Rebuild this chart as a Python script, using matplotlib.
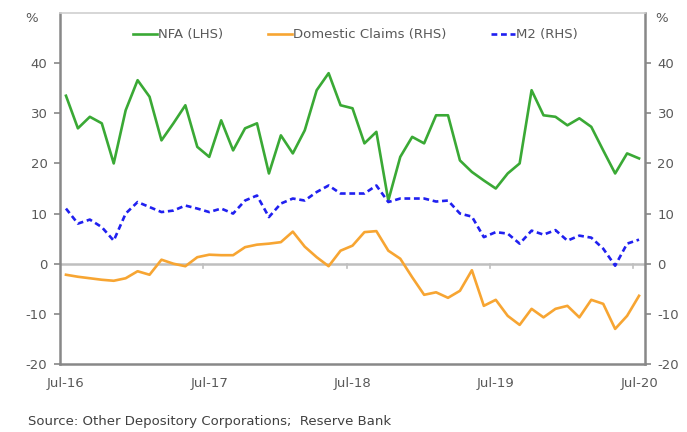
import matplotlib.pyplot as plt
import numpy as np

# monthly data Jul-16 .. Jul-20
nfa = [33.5, 27, 29.3, 28, 20, 30.6, 36.6, 33.3, 24.6, 28, 31.6, 23.3,
       21.3, 28.6, 22.6, 27, 28, 18, 25.6, 22, 26.6, 34.6, 38, 31.6,
       31, 24, 26.3, 12.6, 21.3, 25.3, 24, 29.6, 29.6, 20.6, 18.3, 16.6,
       15, 18, 20, 34.6, 29.6, 29.3, 27.6, 29, 27.3, 22.6, 18, 22, 21]
claims = [-2.2, -2.6, -2.9, -3.2, -3.4, -2.9, -1.5, -2.2, 0.8, 0, -0.5, 1.3,
          1.8, 1.7, 1.7, 3.3, 3.8, 4, 4.3, 6.4, 3.4, 1.3, -0.5, 2.6,
          3.6, 6.3, 6.5, 2.6, 1, -2.7, -6.2, -5.7, -6.8, -5.4, -1.3, -8.4,
          -7.2, -10.4, -12.2, -9, -10.7, -9, -8.4, -10.7, -7.2, -8, -13, -10.4, -6.4]
m2 = [11, 8, 8.8, 7.3, 4.6, 10, 12.3, 11.3, 10.3, 10.6, 11.6, 11,
      10.3, 11, 10, 12.6, 13.6, 9.3, 12, 13, 12.6, 14.3, 15.6, 14,
      14, 14, 15.6, 12.3, 13, 13, 13, 12.4, 12.6, 10, 9.4, 5.3,
      6.3, 6, 4, 6.6, 5.8, 6.7, 4.6, 5.6, 5.2, 3, -0.4, 4, 4.8]
xlabels = ['Jul-16', 'Jul-17', 'Jul-18', 'Jul-19', 'Jul-20']

grey = '#595959'
plt.rcParams['font.family'] = 'DejaVu Sans'
plt.rcParams['axes.unicode_minus'] = False

fig = plt.figure(figsize=(6.87, 4.32), dpi=100)
ax = fig.add_axes([60/687, 1-364/432, 585/687, 351/432])
x = np.arange(len(nfa))

ax.axhline(0, color='#bfbfbf', lw=1.8, zorder=1)
# year boundary ticks on the zero line
for b in np.arange(11.5, len(nfa), 12):
    ax.plot([b, b], [0, -0.9], color='#bfbfbf', lw=1.2, zorder=1)

ax.plot(x, nfa, color='#3aa935', lw=1.9, label='NFA (LHS)', zorder=3,
        solid_joinstyle='round')
ax.plot(x, claims, color='#f7a532', lw=1.9, label='Domestic Claims (RHS)', zorder=3,
        solid_joinstyle='round')
ax.plot(x, m2, color='#2020f0', lw=1.9, ls=(0, (2.2, 1.4)), label='M2 (RHS)', zorder=3)

ax.set_xlim(-0.5, len(nfa) - 0.5)
ax.set_ylim(-20, 50)
ax.set_yticks(range(-20, 41, 10))
ax.set_xticks(range(0, len(nfa), 12))
ax.set_xticklabels(xlabels)
ax.tick_params(axis='x', length=0, pad=9, labelsize=9.5, labelcolor=grey)
ax.tick_params(axis='y', length=4, width=1.2, color='#888888', labelsize=9.5,
               labelcolor=grey, pad=5, left=True, right=True, labelright=True)

for s in ['left', 'right', 'bottom']:
    ax.spines[s].set_color('#888888')
    ax.spines[s].set_linewidth(1.8)
ax.spines['top'].set_color('#d0d0d0')
ax.spines['top'].set_linewidth(1.2)

ax.legend(loc='upper center', bbox_to_anchor=(0.505, 0.99), ncol=3, frameon=False,
          fontsize=9.5, handlelength=1.8, handletextpad=0.1, columnspacing=3.4,
          labelcolor=grey)

fig.text(25/687, 1-18/432, '%', fontsize=9.5, color=grey, ha='left', va='center')
fig.text(655/687, 1-18/432, '%', fontsize=9.5, color=grey, ha='left', va='center')
fig.text(28/687, 1-421/432, 'Source: Other Depository Corporations;  Reserve Bank',
         fontsize=9.5, color='#404040', ha='left', va='center')

fig.savefig('out.png', dpi=100)
